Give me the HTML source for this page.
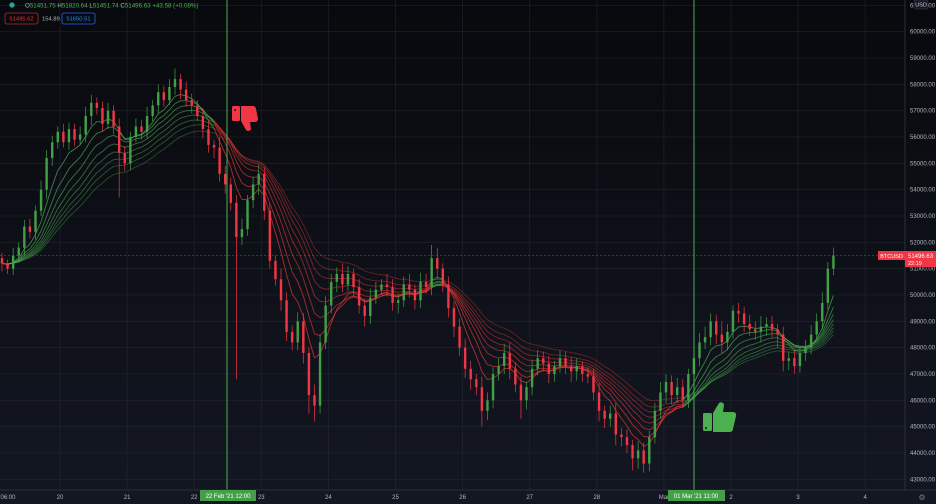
<!DOCTYPE html>
<html><head><meta charset="utf-8"><style>
html,body{margin:0;padding:0;background:#0f1118;}
svg{display:block;font-family:"Liberation Sans",sans-serif;}
</style></head><body>
<svg id="chart" width="936" height="504" viewBox="0 0 936 504" xmlns="http://www.w3.org/2000/svg">
<defs><linearGradient id="bg" x1="0" y1="0" x2="0" y2="1"><stop offset="0" stop-color="#08090d"/><stop offset="1" stop-color="#131722"/></linearGradient></defs>
<rect x="0" y="0" width="936" height="504" fill="url(#bg)"/>
<g id="grid"></g>
<g id="ribbon"></g>
<g id="candles"></g>
<line x1="0" x2="905" y1="255.6" y2="255.6" stroke="#e53935" stroke-opacity="0.6" stroke-width="0.8" stroke-dasharray="2,2"/>
<line x1="227" x2="227" y1="0" y2="490" stroke="#4caf50" stroke-width="1"/>
<line x1="694" x2="694" y1="0" y2="490" stroke="#4caf50" stroke-width="1"/>
<g fill="#f23645">
<rect x="232" y="106" width="8" height="15" rx="1.5"/>
<path d="M241 106 h12 a3 3 0 0 1 3 3 l2 10 a3 3 0 0 1 -3 3 h-5 l1 7 a3 3 0 0 1 -5 1 l-5 -9 z"/>
<circle cx="235" cy="110" r="1" fill="#131722"/>
</g>
<g fill="#4caf50">
<rect x="703" y="413" width="9" height="18" rx="1.5"/>
<path d="M713 413 l6 -10 a3 3 0 0 1 5 2 l-1 7 h10 a3 3 0 0 1 3 4 l-3 13 a3 3 0 0 1 -3 3 h-17 z"/>
<circle cx="706" cy="428" r="1" fill="#131722"/>
</g>
<line x1="905" x2="905" y1="0" y2="490" stroke="#2a2e39"/>
<line x1="0" x2="936" y1="490" y2="490" stroke="#2a2e39"/>
<g id="yaxis" font-size="6" fill="#b2b5be"></g>
<g id="xaxis" font-size="6" fill="#b2b5be"></g>
<g><rect x="200" y="490" width="56" height="11" fill="#43a047"/><text x="228" y="498" font-size="6" fill="#fff" text-anchor="middle">22 Feb '21   12:00</text></g>
<g><rect x="668" y="490" width="57" height="11" fill="#43a047"/><text x="696" y="498" font-size="6" fill="#fff" text-anchor="middle">01 Mar '21   11:00</text></g>
<g><rect x="878" y="251" width="27" height="9" fill="#f23645"/><text x="891.5" y="258" font-size="5.5" fill="#fff" text-anchor="middle">BTCUSD</text></g>
<g><rect x="905" y="251" width="31" height="16" fill="#f23645"/><text x="908" y="258" font-size="6" fill="#fff">51496.63</text><text x="908" y="265" font-size="5.5" fill="#fff">22:19</text></g>
<g><rect x="914" y="0" width="14" height="9" rx="2" fill="#131722" stroke="#434651" stroke-width="0.6"/><text x="921" y="6.5" font-size="5.5" fill="#d1d4dc" text-anchor="middle">USD</text></g>
<g font-size="6.2">
<circle cx="12" cy="5" r="2.6" fill="#26a69a"/>
<text x="25" y="7.5" fill="#b2b5be">O<tspan fill="#4caf50">51451.75</tspan> H<tspan fill="#4caf50">51820.64</tspan> L<tspan fill="#4caf50">51451.74</tspan> C<tspan fill="#4caf50">51496.63</tspan> <tspan fill="#4caf50">+43.58 (+0.08%)</tspan></text>
</g>
<g font-size="5.8">
<rect x="5" y="13" width="33" height="11" rx="2" fill="none" stroke="#b22833" stroke-width="0.8"/><text x="21.5" y="20.5" fill="#e53935" text-anchor="middle">51495.62</text>
<text x="42" y="20.5" fill="#b2b5be">154.89</text>
<rect x="62" y="13" width="33" height="11" rx="2" fill="none" stroke="#2962ff" stroke-width="0.8"/><text x="78.5" y="20.5" fill="#2196f3" text-anchor="middle">51650.51</text>
</g>
<text x="922" y="500" font-size="8" fill="#787b86" text-anchor="middle">⚙</text>
</svg>
<script>
const closes=[51200,51000,51500,51800,52600,52400,53200,54000,55200,55800,56200,55800,56300,55900,56100,56800,57300,57100,56500,57000,56400,55400,55000,56000,56400,56200,56800,57200,57700,57400,57900,58200,57800,57400,57200,56800,56300,55700,55600,54600,54200,53500,52200,52500,53600,54200,54600,53200,51300,50600,49800,48600,48200,49000,47800,46200,45800,48200,49600,50500,50800,50400,50800,50300,49600,49200,49900,50200,50400,50300,49700,49800,50400,50200,49800,50500,50300,51400,51000,50400,49500,48800,48000,47200,46800,46500,45600,46000,47000,47300,47800,47200,46600,46000,46500,47200,47600,47400,47000,47300,47600,47300,47100,47300,47000,46900,46300,45600,45300,45500,44700,44600,44300,43800,44100,43600,44600,45600,46300,46700,46200,46500,46000,47000,47600,48200,48400,49000,48500,48200,48600,49400,49300,48900,48700,48600,48800,48900,48700,48500,47500,47600,47300,47800,48000,48500,49000,49700,51000,51500];
const wickUp=[200,150,300,200,250,300,200,350,300,250,200,300,250,200,300,350,300,200,250,300,200,300,250,200,300,250,350,200,300,250,300,400,200,300,250,200,300,350,200,400,300,250,300,400,200,300,350,250,300,200,400,300,250,350,300,200,400,300,350,300,250,400,300,200,300,250,350,300,200,400,300,250,300,400,200,350,300,500,400,200,300,250,300,350,300,200,400,300,250,300,350,400,250,300,200,350,300,250,300,200,300,250,350,300,200,250,300,350,200,300,400,250,300,200,350,300,250,300,400,300,250,350,300,200,300,350,400,300,250,500,300,200,300,250,350,300,400,250,300,200,300,250,300,200,300,350,300,400,250,300];
const wickDn=[300,200,250,200,300,250,300,200,350,300,250,200,300,250,200,300,350,250,300,200,300,1700,300,250,200,300,250,200,300,250,200,300,350,250,300,200,350,300,400,300,350,300,5400,300,250,300,400,350,300,250,400,350,300,300,400,700,600,300,250,300,400,300,250,350,300,400,300,250,200,350,300,400,250,300,350,300,250,300,400,300,350,400,300,350,400,300,600,350,300,250,300,400,300,700,350,300,250,300,350,300,250,300,400,350,300,250,300,400,350,300,400,350,300,450,400,350,300,250,300,400,350,300,250,300,350,300,250,300,350,400,300,250,350,300,250,300,400,350,300,500,400,350,300,250,300,250,200,300,250];
const priceTicks=[61000,60000,59000,58000,57000,56000,55000,54000,53000,52000,51000,50000,49000,48000,47000,46000,45000,44000,43000];
const dayLabels=["06:00","20","21","22","23","24","25","26","27","28","Mar","2","3","4"];
const emaPeriods=[6,9,12,15,18,21,24,28];

const NS="http://www.w3.org/2000/svg";
function yS(p){return 295-(p-50000)*0.026333;}
function xS(i){return 2+i*5.58;}
function dayX(k){return k===0?8:60+(k-1)*67.1;}
function mk(t,a,parent){const e=document.createElementNS(NS,t);for(const k in a)e.setAttribute(k,a[k]);parent.appendChild(e);return e;}

const grid=document.getElementById('grid');
const yaxis=document.getElementById('yaxis');
priceTicks.forEach(p=>{
  const l=mk('line',{x1:0,x2:905,y1:yS(p),y2:yS(p),stroke:'#2a2e39','stroke-opacity':0.55,'stroke-width':0.8},grid);
  
  
  const t=mk('text',{x:910,y:yS(p)+2},yaxis);
  t.textContent=p.toFixed(2);
  
  
});
const xaxis=document.getElementById('xaxis');
dayLabels.forEach((d,k)=>{
  const x=dayX(k);
  if(k>0){const l=mk('line',{x1:x,x2:x,y1:0,y2:490,stroke:'#2a2e39','stroke-opacity':0.55,'stroke-width':0.8},grid);
  
  }
  const t=mk('text',{x:x,y:499,'text-anchor':'middle'},xaxis);
  t.textContent=d;
  
  
});

const emas=emaPeriods.map(n=>{const k=2/(n+1);let e=closes[0];return closes.map(c=>(e=c*k+e*(1-k)));});
const ribbon=document.getElementById('ribbon');
const fast=emas[0],slow=emas[emas.length-1];
emas.forEach((e,j)=>{
  for(let i=1;i<e.length;i++){
    const up=fast[i]>=slow[i];
    const s=mk('line',{x1:xS(i-1),y1:yS(e[i-1]),x2:xS(i),y2:yS(e[i]),stroke:up?'#4caf50':'#e53935','stroke-opacity':0.75-j*0.05,'stroke-width':0.9},ribbon);
    
    
  }
});

const cg=document.getElementById('candles');
closes.forEach((c,i)=>{
  const o=i===0?51400:closes[i-1];
  const wu=wickUp[i]!==undefined?wickUp[i]:250;
  const wd=wickDn[i]!==undefined?wickDn[i]:250;
  const hi=Math.max(o,c)+wu,lo=Math.min(o,c)-wd;
  const col=c>=o?'#43a047':'#f23645';
  const x=xS(i);
  const w=mk('line',{x1:x,x2:x,y1:yS(hi),y2:yS(lo),stroke:col,'stroke-width':0.7},cg);
  
  
  const top=yS(Math.max(o,c)),bot=yS(Math.min(o,c));
  const b=mk('rect',{x:x-1.2,y:top,width:2.4,height:Math.max(0.8,bot-top),fill:col},cg);
  
  
});
</script>
</body></html>
